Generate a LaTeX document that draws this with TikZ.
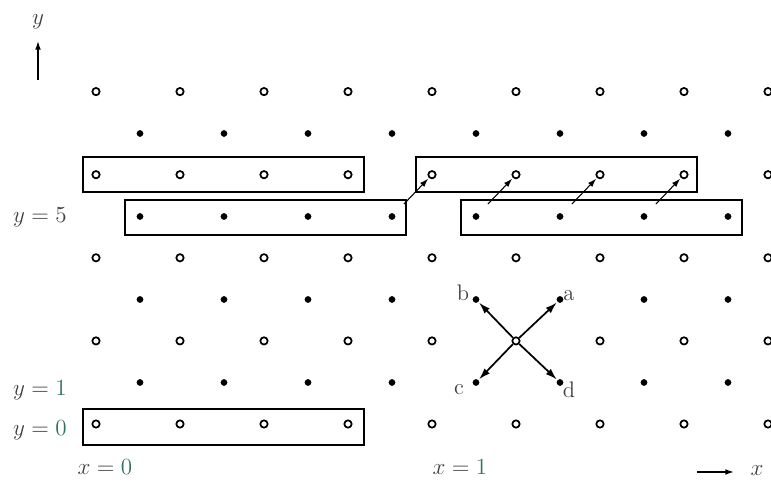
\documentclass[tikz,border=0pt]{standalone}
\usetikzlibrary{arrows.meta}
\definecolor{lbl}{gray}{0.25}
\definecolor{dig}{RGB}{50,115,95}
\tikzset{
  opendot/.style={circle,draw=black,line width=0.9pt,inner sep=0pt,minimum size=3.8pt},
  fulldot/.style={circle,fill=black,inner sep=0pt,minimum size=3.5pt},
  rowbox/.style={draw=black,line width=0.8pt},
  shiftarrow/.style={-{Latex[length=4.5pt,width=3pt]},line width=0.55pt,shorten <=7pt,shorten >=0.5pt},
  crossarrow/.style={-{Latex[length=6pt,width=3.8pt]},line width=0.9pt,shorten >=0.3pt},
  axisarrow/.style={-{Latex[length=4.5pt,width=3pt]},line width=0.7pt},
  lab/.style={text=lbl,inner sep=1pt,font=\fontsize{11.7}{14}\selectfont}
}
\begin{document}
\begin{tikzpicture}[x=0.52pt,y=-0.52pt]
\useasboundingbox (0,0) rectangle (771,483);
% open sites
\foreach \i in {0,...,8}{
  \foreach \k in {0,...,4}{
    \node[opendot] (o-\i-\k) at ({96+84*\i},{424-83.1*\k}) {};
  }
}
% filled sites
\foreach \i in {0,...,7}{
  \foreach \k in {0,...,3}{
    \node[fulldot] (f-\i-\k) at ({140+84*\i},{382.5-83*\k}) {};
  }
}
% boxes
\draw[rowbox] (83,157) rectangle (364,192);
\draw[rowbox] (416,157) rectangle (697,192);
\draw[rowbox] (125,200) rectangle (406,235);
\draw[rowbox] (461,200) rectangle (742,235);
\draw[rowbox] (83,409) rectangle (364,445);
% shift arrows
\draw[shiftarrow] (f-3-2) -- (o-4-3);
\draw[shiftarrow] (f-4-2) -- (o-5-3);
\draw[shiftarrow] (f-5-2) -- (o-6-3);
\draw[shiftarrow] (f-6-2) -- (o-7-3);
% cross arrows
\draw[crossarrow] (o-5-1) -- (f-5-1);
\draw[crossarrow] (o-5-1) -- (f-4-1);
\draw[crossarrow] (o-5-1) -- (f-4-0);
\draw[crossarrow] (o-5-1) -- (f-5-0);
\node[lab] (la) at (569,296) {a};
\node[lab] (lb) at (463,293) {b};
\node[lab] (lc) at (459,390) {c};
\node[lab] (ld) at (569,390) {d};
% axes
\coordinate (ya) at (38,80);
\coordinate (yb) at (38,41);
\draw[axisarrow] (ya) -- (yb);
\node[lab] (ylab) at (38,22) {$y$};
\coordinate (xa) at (697,472);
\coordinate (xb) at (734,472);
\draw[axisarrow] (xa) -- (xb);
\node[lab] (xlab) at (757,471) {$x$};
% labels
\node[lab] (y5) at (40,217) {$y=5$};
\node[lab] (y1) at (40,390) {$y=\textcolor{dig}{1}$};
\node[lab] (y0) at (40,430) {$y=\textcolor{dig}{0}$};
\node[lab] (x0) at (105,467) {$x=\textcolor{dig}{0}$};
\node[lab] (x1) at (460,467) {$x=\textcolor{dig}{1}$};
\end{tikzpicture}
\end{document}
